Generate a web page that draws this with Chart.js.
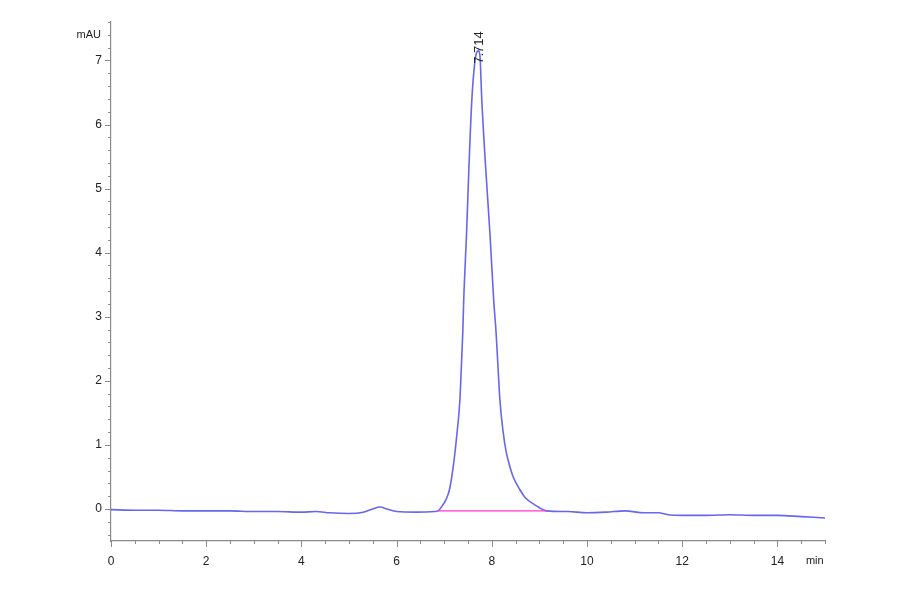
<!DOCTYPE html>
<html>
<head>
<meta charset="utf-8">
<script src="https://cdn.jsdelivr.net/npm/chart.js@4.4.1/dist/chart.umd.min.js"></script>
<style>
  html, body { margin: 0; padding: 0; background: #ffffff; }
  #wrap { width: 900px; height: 594px; position: relative; }
</style>
</head>
<body>
<div id="wrap"><canvas id="c" width="900" height="594"></canvas></div>
<script>
// ---- data ----
const timeMin = [0, 0.5, 1.0, 1.5, 2.0, 2.5, 3.0, 3.5, 4.0, 4.3, 4.6, 5.0, 5.3, 5.5, 5.65, 5.8, 6.0, 6.4, 6.8, 6.87,
  6.97, 7.04, 7.11, 7.19, 7.27, 7.33, 7.36, 7.39, 7.41, 7.47, 7.52, 7.58, 7.64, 7.68, 7.72, 7.75, 7.79, 7.87, 7.96, 8.04, 8.09,
  8.13, 8.17, 8.24, 8.30, 8.38, 8.45, 8.59, 8.70, 8.91, 9.0, 9.15, 9.6, 10.0, 10.4, 10.8, 11.2, 11.5, 11.7, 12.0, 12.5,
  13.0, 13.5, 14.0, 14.5, 15.0];
const signalMAU = [-0.01, -0.02, -0.02, -0.03, -0.03, -0.03, -0.04, -0.04, -0.05, -0.04, -0.06, -0.07, -0.05, 0.0, 0.03, 0.0, -0.04, -0.05, -0.04, -0.03,
  0.06, 0.15, 0.30, 0.66, 1.19, 1.70, 2.22, 2.75, 3.26, 4.31, 5.34, 6.38, 6.95, 7.12, 7.15, 7.08, 6.38, 5.34, 4.31, 3.26, 2.75,
  2.22, 1.70, 1.19, 0.90, 0.66, 0.50, 0.30, 0.18, 0.06, 0.02, -0.03, -0.04, -0.06, -0.05, -0.03, -0.06, -0.06, -0.09, -0.10, -0.10,
  -0.09, -0.10, -0.10, -0.12, -0.14];
const baselineTime = [6.87, 9.15];
const baselineMAU = [-0.03, -0.03];
const peakTimes = [7.714];
const peakLabels = ['7.714'];
const peakHeights = [7.15];
const xTickLabels = [0, 2, 4, 6, 8, 10, 12, 14];
const yTickLabels = [0, 1, 2, 3, 4, 5, 6, 7];
const xMinorStep = 0.5;
const yMinorStep = 0.2;
const xRange = [0, 15];
const yRange = [-0.5, 7.6];

const traceData = timeMin.map((t, i) => ({ x: t, y: signalMAU[i] }));
const baseData = baselineTime.map((t, i) => ({ x: t, y: baselineMAU[i] }));

const AXIS_COLOR = '#8a8a8a';
const TEXT_COLOR = '#222222';
const FONT = 'Liberation Sans, Arial, sans-serif';

const decor = {
  id: 'decor',
  afterDraw(chart) {
    const ctx = chart.ctx;
    const xs = chart.scales.x, ys = chart.scales.y;
    const area = chart.chartArea;
    ctx.save();
    ctx.strokeStyle = AXIS_COLOR;
    ctx.lineWidth = 1;
    // x ticks (major + minor)
    for (let v = xRange[0]; v <= xRange[1] + 1e-9; v += xMinorStep) {
      const px = Math.round(xs.getPixelForValue(v)) + 0.5;
      const major = xTickLabels.some(t => Math.abs(t - v) < 1e-6);
      ctx.beginPath();
      ctx.moveTo(px, area.bottom);
      ctx.lineTo(px, area.bottom + (major ? 6 : 3));
      ctx.stroke();
    }
    // y ticks
    const yStart = Math.ceil(yRange[0] / yMinorStep) * yMinorStep;
    for (let v = yStart; v <= yRange[1] + 1e-9; v += yMinorStep) {
      const py = Math.round(ys.getPixelForValue(v)) + 0.5;
      const major = yTickLabels.some(t => Math.abs(t - v) < 1e-6);
      ctx.beginPath();
      ctx.moveTo(area.left, py);
      ctx.lineTo(area.left - (major ? 6 : 3), py);
      ctx.stroke();
    }
    // axis unit labels
    ctx.fillStyle = TEXT_COLOR;
    ctx.font = '11px ' + FONT;
    ctx.textAlign = 'right';
    ctx.textBaseline = 'middle';
    ctx.fillText('mAU', area.left - 10, ys.getPixelForValue(7.4));
    ctx.textAlign = 'left';
    ctx.fillText('min', xs.getPixelForValue(14.6), area.bottom + 20);
    // peak labels (rotated)
    ctx.font = '13px ' + FONT;
    peakTimes.forEach((t, i) => {
      const px = xs.getPixelForValue(t);
      const py = ys.getPixelForValue(peakHeights[i]);
      ctx.save();
      ctx.translate(px + 1, py + 13);
      ctx.rotate(-Math.PI / 2);
      ctx.textAlign = 'left';
      ctx.textBaseline = 'middle';
      ctx.fillText(peakLabels[i], 0, 0);
      ctx.restore();
    });
    ctx.restore();
  }
};

new Chart(document.getElementById('c'), {
  type: 'line',
  data: {
    datasets: [
      {
        data: baseData,
        borderColor: '#ff33cc',
        borderWidth: 1.2,
        pointRadius: 0,
        tension: 0
      },
      {
        data: traceData,
        borderColor: 'rgba(75,75,235,0.85)',
        borderWidth: 1.6,
        pointRadius: 0,
        cubicInterpolationMode: 'monotone'
      }
    ]
  },
  options: {
    responsive: false,
    animation: false,
    layout: { padding: { left: 0, right: 75, top: 22, bottom: 0 } },
    plugins: { legend: { display: false }, tooltip: { enabled: false } },
    scales: {
      x: {
        type: 'linear',
        min: xRange[0],
        max: xRange[1],
        afterBuildTicks: (axis) => { axis.ticks = xTickLabels.map(v => ({ value: v })); },
        afterFit: (axis) => { axis.height = 53; },
        grid: { display: false, drawTicks: false },
        border: { display: true, color: AXIS_COLOR, width: 1.2 },
        ticks: { padding: 13, color: TEXT_COLOR, font: { family: FONT, size: 12 }, maxRotation: 0 }
      },
      y: {
        type: 'linear',
        min: yRange[0],
        max: yRange[1],
        afterBuildTicks: (axis) => { axis.ticks = yTickLabels.map(v => ({ value: v })); },
        afterFit: (axis) => { axis.width = 111; },
        grid: { display: false, drawTicks: false },
        border: { display: true, color: AXIS_COLOR, width: 1.2 },
        ticks: { padding: 9, color: TEXT_COLOR, font: { family: FONT, size: 12 } }
      }
    }
  },
  plugins: [decor]
});
</script>
</body>
</html>
